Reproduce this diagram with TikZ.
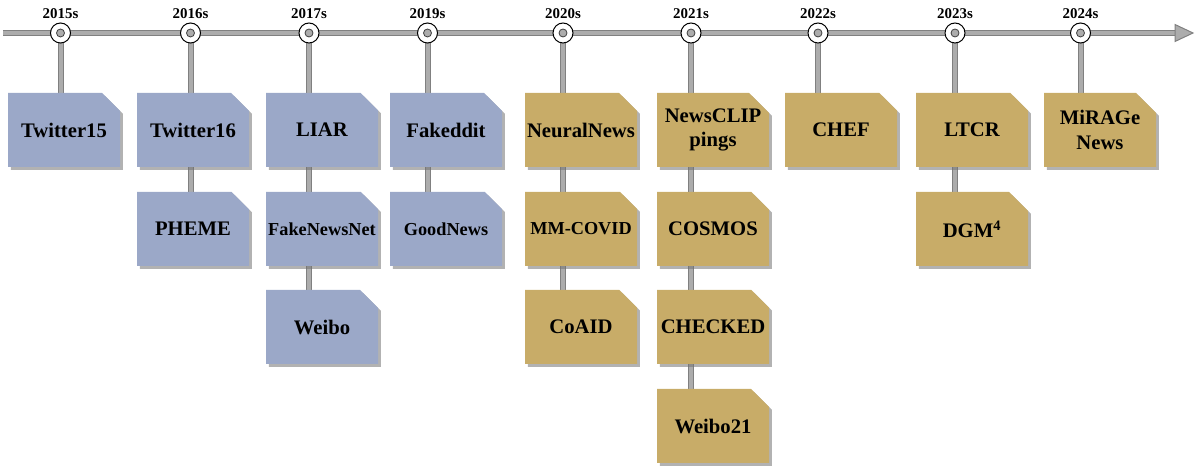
\documentclass[tikz,border=0pt]{standalone}
\usepackage{fontspec}
\setmainfont{Liberation Serif}
\usetikzlibrary{shapes.misc,shadows,backgrounds}

\definecolor{railout}{RGB}{128,128,128}
\definecolor{railin}{RGB}{172,172,172}
\definecolor{oldset}{RGB}{155,168,200}
\definecolor{newset}{RGB}{200,172,104}

% wide labels may run past the chamfer
\newcommand{\wide}[1]{\makebox[50pt][c]{#1}}

\tikzset{
  rail/.style={draw=railout, line width=0.75pt, double=railin, double distance=3pt},
  yearmark/.style={circle, draw=black, fill=white, line width=0.75pt, minimum size=15pt, inner sep=0pt},
  yeardot/.style={circle, draw=black!75, fill=railin, line width=0.6pt, minimum size=6pt, inner sep=0pt},
  yearlabel/.style={font=\bfseries\fontsize{11.2}{13}\selectfont, inner sep=0pt},
  dataset/.style={chamfered rectangle, chamfered rectangle corners=north east,
    chamfered rectangle xsep=7pt, chamfered rectangle ysep=8pt,
    minimum width=84pt, minimum height=55.5pt, inner sep=0pt, align=center,
    font=\bfseries\fontsize{15.5}{18.5}\selectfont,
    drop shadow={shadow xshift=2.2pt, shadow yshift=-2.2pt, fill=black!55, opacity=0.55}},
  oldbox/.style={dataset, fill=oldset},
  newbox/.style={dataset, fill=newset},
  smalltext/.style={font=\bfseries\fontsize{13.7}{16}\selectfont}
}

\begin{document}
\begin{tikzpicture}[x=0.75pt,y=-0.75pt]
  \useasboundingbox (0,0) rectangle (1196,473);

  %axis
  \coordinate (axisstart) at (3,33);
  \coordinate (axisend) at (1176,33);

  %year marks
  \node[yearmark] (m2015) at (60.5,33) {};
  \node[yearmark] (m2016) at (190.5,33) {};
  \node[yearmark] (m2017) at (309,33) {};
  \node[yearmark] (m2019) at (427.5,33) {};
  \node[yearmark] (m2020) at (563,33) {};
  \node[yearmark] (m2021) at (691,33) {};
  \node[yearmark] (m2022) at (818,33) {};
  \node[yearmark] (m2023) at (955,33) {};
  \node[yearmark] (m2024) at (1080.5,33) {};

  \node[yeardot] at (m2015) {};
  \node[yeardot] at (m2016) {};
  \node[yeardot] at (m2017) {};
  \node[yeardot] at (m2019) {};
  \node[yeardot] at (m2020) {};
  \node[yeardot] at (m2021) {};
  \node[yeardot] at (m2022) {};
  \node[yeardot] at (m2023) {};
  \node[yeardot] at (m2024) {};

  \node[yearlabel] (t2015) at (60.5,14) {2015s};
  \node[yearlabel] (t2016) at (190.5,14) {2016s};
  \node[yearlabel] (t2017) at (309,14) {2017s};
  \node[yearlabel] (t2019) at (427.5,14) {2019s};
  \node[yearlabel] (t2020) at (563,14) {2020s};
  \node[yearlabel] (t2021) at (691,14) {2021s};
  \node[yearlabel] (t2022) at (818,14) {2022s};
  \node[yearlabel] (t2023) at (955,14) {2023s};
  \node[yearlabel] (t2024) at (1080.5,14) {2024s};

  %2015
  \node[oldbox] (twitter15) at (64,130) {Twitter15};

  %2016
  \node[oldbox] (twitter16) at (193,130) {Twitter16};
  \node[oldbox] (pheme) at (193,229) {PHEME};

  %2017
  \node[oldbox] (liar) at (322,130) {LIAR};
  \node[oldbox,smalltext] (fakenewsnet) at (322,229) {\wide{FakeNewsNet}};
  \node[oldbox] (weibo) at (322,327) {Weibo};

  %2019
  \node[oldbox] (fakeddit) at (446,130) {Fakeddit};
  \node[oldbox,smalltext] (goodnews) at (446,229) {\wide{GoodNews}};

  %2020
  \node[newbox] (neuralnews) at (581,130) {\wide{NeuralNews}};
  \node[newbox,smalltext] (mmcovid) at (581,229) {\wide{MM-COVID}};
  \node[newbox] (coaid) at (581,327) {CoAID};

  %2021
  \node[newbox] (newsclip) at (713,130) {\wide{NewsCLIP}\\pings};
  \node[newbox] (cosmos) at (713,229) {\wide{COSMOS}};
  \node[newbox] (checked) at (713,327) {\wide{CHECKED}};
  \node[newbox] (weibo21) at (713,426) {Weibo21};

  %2022
  \node[newbox] (chef) at (841,130) {CHEF};

  %2023
  \node[newbox] (ltcr) at (972,130) {LTCR};
  \node[newbox] (dgm) at (972,229) {DGM\textsuperscript{4}};

  %2024
  \node[newbox] (mirage) at (1100,130) {MiRAGe\\News};

  %rails
  \begin{scope}[on background layer]
    \draw[rail] (axisstart) -- (axisend);
    \draw[draw=railout, fill=railin, line width=0.75pt]
      (1175,24.5) -- (1193,33) -- (1175,41.5) -- cycle;
    \draw[rail] (m2015) -- (m2015 |- twitter15.center);
    \draw[rail] (m2016) -- (m2016 |- pheme.center);
    \draw[rail] (m2017) -- (m2017 |- weibo.center);
    \draw[rail] (m2019) -- (m2019 |- goodnews.center);
    \draw[rail] (m2020) -- (m2020 |- coaid.center);
    \draw[rail] (m2021) -- (m2021 |- weibo21.center);
    \draw[rail] (m2022) -- (m2022 |- chef.center);
    \draw[rail] (m2023) -- (m2023 |- dgm.center);
    \draw[rail] (m2024) -- (m2024 |- mirage.center);
  \end{scope}

\end{tikzpicture}
\end{document}
